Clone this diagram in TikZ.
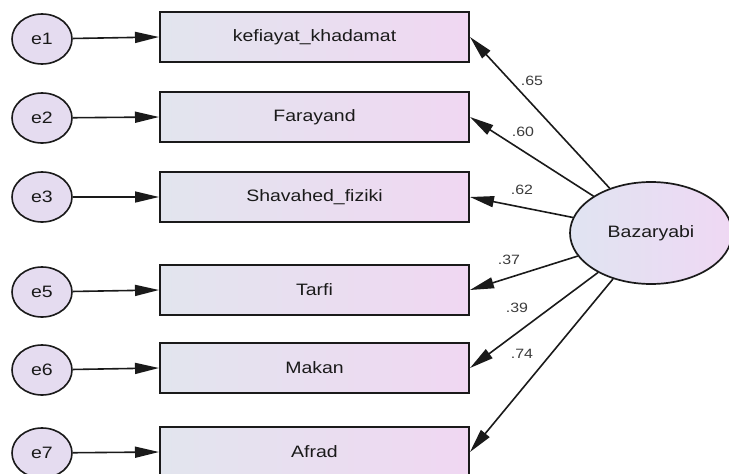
\documentclass[tikz,border=0pt]{standalone}
\usepackage{fontspec}
\setmainfont{Liberation Sans}
\usetikzlibrary{arrows.meta,shapes.geometric}
\definecolor{boxL}{HTML}{E2E5EE}
\definecolor{boxR}{HTML}{F0D7F2}
\definecolor{errfill}{HTML}{E5DCF0}
\definecolor{latL}{HTML}{E0E4F2}
\definecolor{latR}{HTML}{EFD8F3}
\definecolor{ink}{HTML}{1A1A1A}
\newcommand{\wx}[1]{\scalebox{1.18}[1]{#1}}
\begin{document}
\begin{tikzpicture}[x=1pt,y=-1pt,
  obs/.style={draw=ink, line width=2pt, rectangle, minimum width=309pt, minimum height=50pt,
    inner sep=0pt, left color=boxL, right color=boxR, text=ink, font=\fontsize{16.5}{18}\selectfont},
  err/.style={draw=ink, line width=1.6pt, ellipse, minimum width=60pt, minimum height=50pt,
    inner sep=0pt, fill=errfill, text=ink, font=\fontsize{16.5}{18}\selectfont},
  lat/.style={draw=ink, line width=1.7pt, ellipse, minimum width=162pt, minimum height=102pt,
    inner sep=0pt, left color=latL, right color=latR, text=ink, font=\fontsize{16.5}{18}\selectfont},
  path/.style={draw=ink, line width=1.6pt, -{Triangle[length=24pt,width=11pt]}},
  lab/.style={text=ink!85, font=\fontsize{13.5}{15}\selectfont, inner sep=0pt}
]
\useasboundingbox (0,0) rectangle (729,474);
\fill[white] (0,0) rectangle (729,474);

\node[obs] (r1) at (314.5,37) {\wx{kefiayat\_khadamat}};
\node[obs] (r2) at (314.5,117) {\wx{Farayand}};
\node[obs] (r3) at (314.5,197) {\wx{Shavahed\_fiziki}};
\node[obs] (r5) at (314.5,290) {\wx{Tarfi}};
\node[obs] (r6) at (314.5,368) {\wx{Makan}};
\node[obs] (r7) at (314.5,452) {\wx{Afrad}};

\node[err] (e1) at (42,39) {\wx{e1}};
\node[err] (e2) at (42,118) {\wx{e2}};
\node[err] (e3) at (42,197) {\wx{e3}};
\node[err] (e5) at (42,292) {\wx{e5}};
\node[err] (e6) at (42,370) {\wx{e6}};
\node[err] (e7) at (42,453) {\wx{e7}};

\node[lat] (b) at (651,233) {\wx{Bazaryabi}};

\draw[path] (e1) -- (r1.west);
\draw[path] (e2) -- (r2.west);
\draw[path] (e3) -- (r3.west);
\draw[path] (e5) -- (r5.west);
\draw[path] (e6) -- (r6.west);
\draw[path] (e7) -- (r7.west);

\draw[path] (b) -- (r1.east);
\draw[path] (b) -- (r2.east);
\draw[path] (b) -- (r3.east);
\draw[path] (b) -- (r5.east);
\draw[path] (b) -- (r6.east);
\draw[path] (b) -- (r7.east);

\node[lab] (l1) at (532,81) {\wx{.65}};
\node[lab] (l2) at (523,132) {\wx{.60}};
\node[lab] (l3) at (522,190) {\wx{.62}};
\node[lab] (l5) at (509,260) {\wx{.37}};
\node[lab] (l6) at (517,308) {\wx{.39}};
\node[lab] (l7) at (522,354) {\wx{.74}};
\end{tikzpicture}
\end{document}
